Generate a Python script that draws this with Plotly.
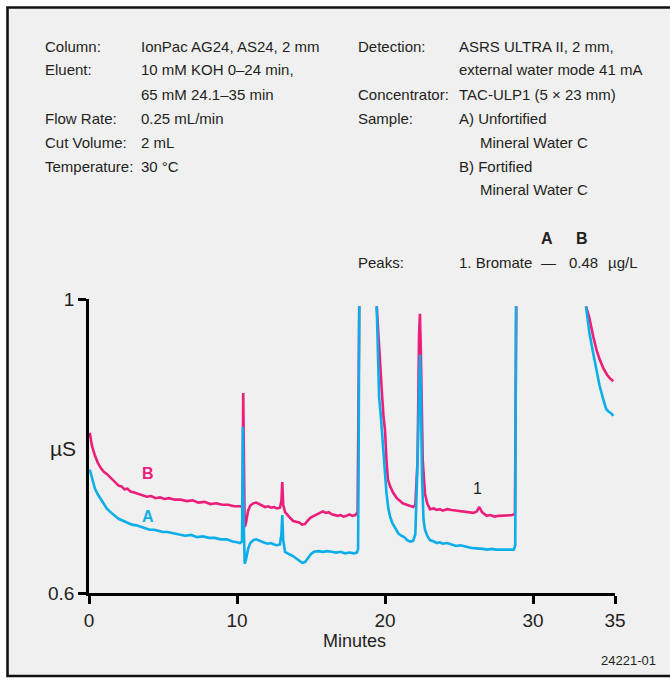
import plotly.graph_objects as go

# ---- data (minutes, µS) ----
b_x = [0.05, 0.2, 0.4, 0.6, 0.8, 1.0, 1.2, 1.4, 1.6, 1.8, 2.0, 2.2, 2.4, 2.6, 2.8, 3.0, 3.3, 3.6, 3.9, 4.2,
       4.5, 4.8, 5.1, 5.4, 5.8, 6.2, 6.6, 7.0, 7.4, 7.8, 8.2, 8.6, 9.0, 9.4, 9.8, 10.2, 10.38, 10.42, 10.46, 10.52,
       10.6, 10.75, 10.9, 11.1, 11.3, 11.5, 11.7, 11.9, 12.1, 12.3, 12.5, 12.7, 12.9, 13.0, 13.06, 13.12, 13.25, 13.4, 13.6, 13.8,
       14.0, 14.2, 14.4, 14.6, 14.8, 15.0, 15.2, 15.4, 15.6, 15.8, 16.0, 16.2, 16.4, 16.6, 16.8, 17.0, 17.2, 17.4, 17.6, 17.8,
       18.0, 18.15, 18.22, 18.26, None,
       19.44, 19.52, 19.66, 19.8, 19.9, 20.0, 20.1, 20.2, 20.35, 20.56, 20.8, 21.0, 21.2, 21.47, 21.7, 21.9, 22.05, 22.2, 22.3, 22.36,
       22.42, 22.55, 22.7, 22.85, 23.04, 23.3, 23.5, 23.7, 23.9, 24.2, 24.5, 24.8, 25.1, 25.4, 25.7, 25.97, 26.2, 26.37, 26.55, 26.87,
       27.1, 27.4, 27.7, 28.0, 28.3, 28.6, 28.78, 28.84, 28.87, None,
       33.58, 33.8, 34.07, 34.3, 34.5, 34.75, 35.0, 35.2, 35.43]
b_y = [0.818, 0.800, 0.787, 0.777, 0.770, 0.765, 0.762, 0.758, 0.753, 0.750, 0.746, 0.745, 0.741, 0.742, 0.738, 0.737, 0.735, 0.734, 0.731, 0.732,
       0.729, 0.730, 0.728, 0.729, 0.727, 0.727, 0.725, 0.726, 0.723, 0.724, 0.721, 0.722, 0.720, 0.720, 0.718, 0.718, 0.717, 0.872, 0.760, 0.690,
       0.695, 0.712, 0.719, 0.722, 0.723, 0.721, 0.720, 0.717, 0.718, 0.716, 0.717, 0.715, 0.716, 0.725, 0.751, 0.720, 0.710, 0.706, 0.702, 0.698,
       0.697, 0.696, 0.693, 0.694, 0.699, 0.703, 0.705, 0.707, 0.708, 0.711, 0.709, 0.710, 0.707, 0.706, 0.705, 0.706, 0.704, 0.705, 0.707, 0.705,
       0.706, 0.710, 0.850, 0.990, None,
       0.990, 0.960, 0.913, 0.870, 0.840, 0.822, 0.780, 0.754, 0.745, 0.736, 0.729, 0.726, 0.722, 0.720, 0.718, 0.717, 0.720, 0.780, 0.950, 0.980,
       0.930, 0.780, 0.735, 0.722, 0.714, 0.715, 0.713, 0.714, 0.712, 0.714, 0.713, 0.712, 0.711, 0.710, 0.710, 0.709, 0.711, 0.717, 0.710, 0.705,
       0.706, 0.704, 0.705, 0.705, 0.706, 0.706, 0.708, 0.850, 0.990, None,
       0.990, 0.975, 0.949, 0.930, 0.918, 0.906, 0.897, 0.892, 0.888]

a_x = [0.05, 0.2, 0.4, 0.6, 0.8, 1.0, 1.2, 1.4, 1.6, 1.8, 2.0, 2.3, 2.6, 2.9, 3.2, 3.5, 3.8, 4.1, 4.4, 4.7,
       5.0, 5.3, 5.7, 6.1, 6.5, 6.9, 7.3, 7.7, 8.1, 8.5, 8.9, 9.3, 9.7, 10.0, 10.2, 10.34, 10.40, 10.45, 10.52, 10.6,
       10.75, 10.9, 11.1, 11.3, 11.5, 11.7, 11.9, 12.1, 12.3, 12.5, 12.7, 12.9, 13.0, 13.06, 13.12, 13.25, 13.4, 13.6, 13.8, 14.0,
       14.2, 14.4, 14.6, 14.8, 15.0, 15.2, 15.5, 15.8, 16.1, 16.4, 16.7, 17.0, 17.3, 17.6, 17.9, 18.1, 18.18, 18.22, 18.26, None,
       19.44, 19.52, 19.6, 19.72, 19.84, 19.95, 20.1, 20.22, 20.34, 20.5, 20.7, 20.9, 21.1, 21.3, 21.5, 21.7, 21.9, 22.05, 22.2, 22.3,
       22.36, 22.42, 22.5, 22.6, 22.7, 22.85, 23.04, 23.3, 23.5, 23.7, 23.9, 24.2, 24.5, 24.8, 25.1, 25.4, 25.7, 26.0, 26.3, 26.6,
       26.9, 27.2, 27.5, 27.8, 28.1, 28.4, 28.7, 28.8, 28.85, None,
       33.58, 33.8, 34.07, 34.3, 34.5, 34.75, 34.95, 35.1, 35.25, 35.43]
a_y = [0.768, 0.755, 0.742, 0.734, 0.727, 0.720, 0.715, 0.711, 0.707, 0.704, 0.701, 0.698, 0.696, 0.693, 0.692, 0.690, 0.689, 0.686, 0.686, 0.684,
       0.683, 0.683, 0.681, 0.680, 0.678, 0.679, 0.676, 0.677, 0.675, 0.675, 0.673, 0.673, 0.670, 0.669, 0.668, 0.670, 0.826, 0.700, 0.640, 0.645,
       0.660, 0.668, 0.672, 0.673, 0.671, 0.670, 0.668, 0.667, 0.668, 0.666, 0.665, 0.666, 0.680, 0.706, 0.672, 0.656, 0.654, 0.652, 0.650, 0.647,
       0.645, 0.641, 0.642, 0.648, 0.653, 0.656, 0.657, 0.656, 0.657, 0.656, 0.655, 0.656, 0.654, 0.655, 0.654, 0.655, 0.660, 0.800, 0.990, None,
       0.990, 0.920, 0.867, 0.840, 0.808, 0.770, 0.736, 0.716, 0.704, 0.695, 0.687, 0.681, 0.678, 0.676, 0.672, 0.670, 0.671, 0.680, 0.780, 0.910,
       0.924, 0.880, 0.760, 0.700, 0.686, 0.678, 0.672, 0.670, 0.668, 0.669, 0.667, 0.668, 0.666, 0.664, 0.665, 0.663, 0.662, 0.661, 0.661, 0.660,
       0.659, 0.660, 0.659, 0.659, 0.658, 0.659, 0.659, 0.665, 0.990, None,
       0.990, 0.955, 0.926, 0.900, 0.882, 0.863, 0.850, 0.847, 0.845, 0.841]

x_tick_vals = [0, 10, 20, 30, 35.54]
x_tick_text = ["0", "10", "20", "30", "35"]
y_tick_vals = [0.6, 1.0]
y_tick_text = ["0.6", "1"]

left_labels = ["Column:", "Eluent:", "", "Flow Rate:", "Cut Volume:", "Temperature:"]
left_values = ["IonPac AG24, AS24, 2 mm", "10 mM KOH 0–24 min,", "65 mM 24.1–35 min",
               "0.25 mL/min", "2 mL", "30 °C"]
right_labels = ["Detection:", "", "Concentrator:", "Sample:", "", "", "", "", "", "Peaks:"]
right_values = ["ASRS ULTRA II, 2 mm,", "external water mode 41 mA", "TAC-ULP1 (5 × 23 mm)",
                "A) Unfortified", "   Mineral Water C", "B) Fortified", "   Mineral Water C", "", "", "1. Bromate"]

PINK = "#EC1E7B"
CYAN = "#0BAEE8"
TXT = "#231F20"
FONT = "Liberation Sans, Arial, sans-serif"

W, H = 670, 681
L, R, T, B = 89, 615, 299, 593


def px(x):
    return (x - L) / (R - L)


def py(y):
    return (B - y) / (B - T)


fig = go.Figure()
fig.add_trace(go.Scatter(x=b_x, y=b_y, mode="lines", line=dict(color=PINK, width=2.6),
                         showlegend=False, hoverinfo="skip"))
fig.add_trace(go.Scatter(x=a_x, y=a_y, mode="lines", line=dict(color=CYAN, width=2.6),
                         showlegend=False, hoverinfo="skip"))

ann = []
for i, (lab, val) in enumerate(zip(left_labels, left_values)):
    yy = 46 + 24 * i
    if lab:
        ann.append(dict(x=px(43), y=py(yy), text=lab, xanchor="left", yanchor="middle"))
    ann.append(dict(x=px(139), y=py(yy), text=val, xanchor="left", yanchor="middle"))
for i, (lab, val) in enumerate(zip(right_labels, right_values)):
    yy = 46 + 24 * i
    if lab:
        ann.append(dict(x=px(356), y=py(yy), text=lab, xanchor="left", yanchor="middle"))
    if val.strip():
        xx = 457 if not val.startswith("   ") else 478
        ann.append(dict(x=px(xx), y=py(yy), text=val.strip(), xanchor="left", yanchor="middle"))
ann.append(dict(x=px(548), y=py(262), text="—", xanchor="center", yanchor="middle"))
ann.append(dict(x=px(567), y=py(262), text="0.48", xanchor="left", yanchor="middle"))
ann.append(dict(x=px(606), y=py(262), text="µg/L", xanchor="left", yanchor="middle"))
for a in ann:
    a.update(xref="paper", yref="paper", showarrow=False, font=dict(family=FONT, size=15, color=TXT))

extra = [
    dict(x=px(547), y=py(238), text="<b>A</b>", font=dict(family=FONT, size=16, color=TXT)),
    dict(x=px(582), y=py(238), text="<b>B</b>", font=dict(family=FONT, size=16, color=TXT)),
    dict(x=px(148), y=py(473), text="<b>B</b>", font=dict(family=FONT, size=16, color=PINK)),
    dict(x=px(148), y=py(516), text="<b>A</b>", font=dict(family=FONT, size=16, color=CYAN)),
    dict(x=px(477), y=py(488), text="1", font=dict(family=FONT, size=16, color=TXT)),
    dict(x=px(63), y=py(448), text="µS", font=dict(family=FONT, size=21, color=TXT)),
    dict(x=px(354), y=py(641), text="Minutes", font=dict(family=FONT, size=18, color=TXT)),
    dict(x=px(628), y=py(660), text="24221-01", font=dict(family=FONT, size=13, color=TXT)),
]
for a in extra:
    a.update(xref="paper", yref="paper", showarrow=False, xanchor="center", yanchor="middle")
ann += extra

fig.update_layout(
    width=W, height=H,
    margin=dict(l=L, r=W - R, t=T, b=H - B, pad=0),
    paper_bgcolor="white",
    plot_bgcolor="rgba(0,0,0,0)",
    annotations=ann,
    shapes=[dict(type="rect", xref="paper", yref="paper",
                 x0=px(7.5), x1=px(690), y0=py(676), y1=py(7.5),
                 line=dict(color="#111111", width=2.6), fillcolor="#F0F0F0", layer="below")],
    xaxis=dict(range=[0, 35.54], tickvals=x_tick_vals, ticktext=x_tick_text,
               showline=True, linecolor="black", linewidth=2.6, ticks="outside", ticklen=8,
               tickwidth=2.6, tickcolor="black", showgrid=False, zeroline=False,
               tickfont=dict(family=FONT, size=19, color=TXT)),
    yaxis=dict(range=[0.6, 1.0], tickvals=y_tick_vals, ticktext=y_tick_text,
               showline=True, linecolor="black", linewidth=2.6, ticks="outside", ticklen=8,
               tickwidth=2.6, tickcolor="black", showgrid=False, zeroline=False,
               tickfont=dict(family=FONT, size=19, color=TXT)),
)

fig.write_html("out.html", config={"displayModeBar": False},
               post_script="document.body.style.margin='0';")
